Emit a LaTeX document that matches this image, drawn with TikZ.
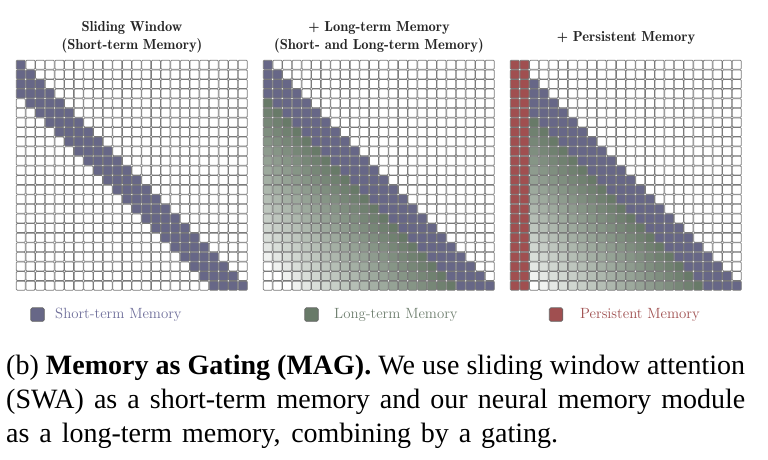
\documentclass[tikz,border=0pt]{standalone}
\usepackage{fontspec}
\newfontfamily\capfont{Liberation Serif}
\newfontfamily\titlefont{lmromandemi10-regular.otf}
\definecolor{stm}{HTML}{676787}
\definecolor{ltm}{HTML}{687A68}
\definecolor{pm}{HTML}{A04F50}
\definecolor{stmtext}{HTML}{6E6E9A}
\definecolor{ltmtext}{HTML}{6F7F6F}
\definecolor{pmtext}{HTML}{A05050}
\begin{document}
\begin{tikzpicture}[x=1pt,y=-1pt,
  cellst/.style={draw=black!52, line width=0.75pt, rounded corners=0.9pt},
  titlest/.style={font=\titlefont\fontsize{14.5}{17}\selectfont, text=black!85, anchor=base, inner sep=0pt},
  legbox/.style={draw=black!60, line width=0.7pt, rounded corners=1.5pt, minimum size=13.5pt, inner sep=0pt},
  legtext/.style={font=\fontsize{14.8}{16}\selectfont, anchor=west, inner sep=0pt},
  capline/.style={font=\capfont\fontsize{28}{34}\selectfont, anchor=base west, inner sep=0pt}]
\useasboundingbox[fill=white] (0,0) rectangle (768,459);
\def\cs{9.65}
\def\ins{0.3}
\foreach \g/\gx in {1/16,2/263,3/510}{
 \foreach \i in {0,...,23}{
  \foreach \j in {0,...,23}{
   \pgfmathtruncatemacro\d{\i-\j}
   \pgfmathtruncatemacro\t{100*pow(max(0.0001,1-(\d-4)/17),0.8)}
   \def\cc{white}
   \ifnum\d>-1 \ifnum\d<4 \def\cc{stm}\fi\fi
   \ifnum\g>1 \ifnum\d>3 \edef\cc{ltm!\t!white}\fi\fi
   \ifnum\g>2 \ifnum\j<2 \def\cc{pm}\fi\fi
   \filldraw[cellst, fill=\cc] ({\gx+\j*\cs+\ins},{60+\i*\cs*0.995+\ins}) rectangle ({\gx+(\j+1)*\cs-\ins},{60+(\i+1)*\cs*0.995-\ins});
  }}}
% titles
\node[titlest] (t1a) at (132,31.5) {Sliding Window};
\node[titlest] (t1b) at (132,49) {(Short-term Memory)};
\node[titlest] (t2a) at (379,31.5) {+ Long-term Memory};
\node[titlest] (t2b) at (379,49) {(Short- and Long-term Memory)};
\node[titlest] (t3a) at (626,41) {+ Persistent Memory};
% legend
\node[legbox, fill=stm] (l1) at (37.5,314.5) {};
\node[legtext, text=stmtext] (l1t) at (55,314.5) {Short-term Memory};
\node[legbox, fill=ltm] (l2) at (311.5,314.5) {};
\node[legtext, text=ltmtext] (l2t) at (334,314.5) {Long-term Memory};
\node[legbox, fill=pm] (l3) at (556,314.5) {};
\node[legtext, text=pmtext] (l3t) at (580,314.5) {Persistent Memory};
% caption
\node[capline] (c1) at (6,374) {\makebox[739pt][s]{(b) \textbf{Memory as Gating (MAG).} We use sliding window attention}};
\node[capline] (c2) at (6,408) {\makebox[739pt][s]{(SWA) as a short-term memory and our neural memory module}};
\node[capline] (c3) at (6,442) {\makebox[552pt][s]{as a long-term memory, combining by a gating.}};
\end{tikzpicture}
\end{document}
